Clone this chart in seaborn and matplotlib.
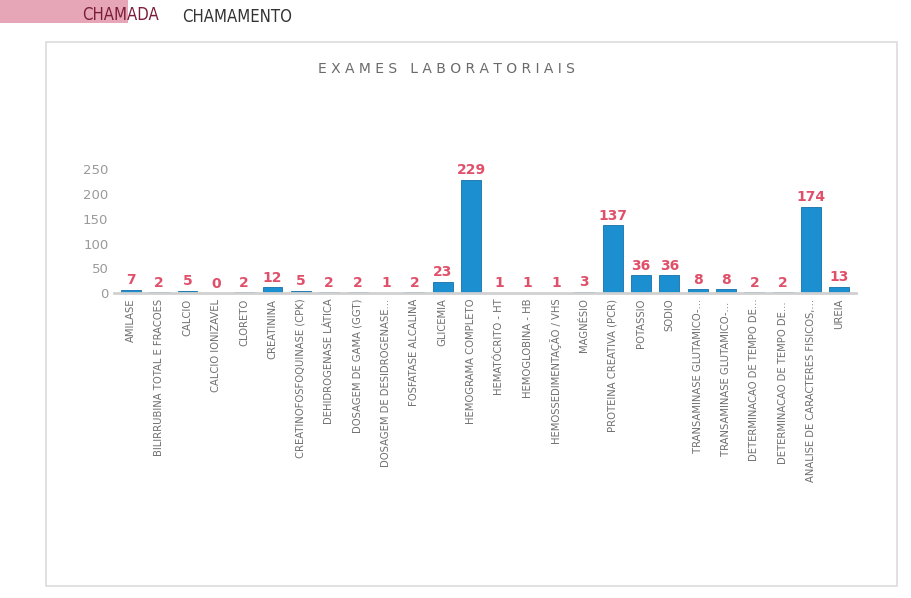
import matplotlib
matplotlib.use("Agg")
import matplotlib.pyplot as plt
import seaborn as sns
import pandas as pd
from matplotlib.patches import Rectangle

categories = [
    "AMILASE", "BILIRRUBINA TOTAL E FRACOES", "CALCIO", "CALCIO IONIZAVEL",
    "CLORETO", "CREATININA", "CREATINOFOSFOQUINASE (CPK)", "DEHIDROGENASE LÁTICA",
    "DOSAGEM DE GAMA (GGT)", "DOSAGEM DE DESIDROGENASE...", "FOSFATASE ALCALINA",
    "GLICEMIA", "HEMOGRAMA COMPLETO", "HEMATÓCRITO - HT", "HEMOGLOBINA - HB",
    "HEMOSSEDIMENTAÇÃO / VHS", "MAGNÉSIO", "PROTEINA CREATIVA (PCR)", "POTASSIO",
    "SODIO", "TRANSAMINASE GLUTAMICO-...", "TRANSAMINASE GLUTAMICO-... ",
    "DETERMINACAO DE TEMPO DE...", "DETERMINACAO DE TEMPO DE... ",
    "ANALISE DE CARACTERES FISICOS,...", "UREIA",
]
values = [7, 2, 5, 0, 2, 12, 5, 2, 2, 1, 2, 23, 229, 1, 1, 1, 3, 137, 36, 36,
          8, 8, 2, 2, 174, 13]
yticks = [0, 50, 100, 150, 200, 250]

df = pd.DataFrame({"exame": categories, "qtd": values})

sns.set_theme(style="white")
plt.rcParams["font.family"] = ["DejaVu Sans"]

fig = plt.figure(figsize=(9.11, 5.98), dpi=100)
fig.patch.set_facecolor("white")

# printed page frame
fig.patches.append(Rectangle((0.05, 0.02), 0.935, 0.91, transform=fig.transFigure,
                             fill=False, edgecolor="#dcdcdc", linewidth=1.2))
# pink header strip
fig.patches.append(Rectangle((0.0, 0.962), 0.14, 0.04, transform=fig.transFigure,
                             facecolor="#e7a6b8", edgecolor="none"))
fig.text(0.09, 0.975, "CHAMADA", fontsize=12, color="#7a1d3a", ha="left", va="center",
         fontstretch="condensed")
fig.text(0.2, 0.972, "CHAMAMENTO", fontsize=12, color="#333333", ha="left", va="center",
         fontstretch="condensed")

ax = fig.add_axes([0.125, 0.51, 0.815, 0.24])
sns.barplot(data=df, x="exame", y="qtd", color="#1c8fd0", ax=ax, width=0.7,
            saturation=1, edgecolor="#1470a8", linewidth=0.6)

ax.set_ylim(0, 290)
ax.set_yticks(yticks)
ax.set_yticklabels([str(t) for t in yticks], fontsize=9.5, color="#9a9a9a")
ax.set_xticks(range(len(categories)))
ax.set_xticklabels(categories, rotation=90, fontsize=8, color="#6e6e6e",
                   fontstretch="condensed")
ax.tick_params(axis="both", length=0, pad=4)
ax.set_xlabel("")
ax.set_ylabel("")
for s in ["top", "right", "left"]:
    ax.spines[s].set_visible(False)
ax.spines["bottom"].set_color("#d0d0d0")
ax.spines["bottom"].set_linewidth(2)
ax.set_xlim(-0.6, len(categories) - 0.4)

for i, v in enumerate(values):
    ax.text(i, v + 5, str(v), ha="center", va="bottom", fontsize=10,
            fontweight="bold", color="#e0506a")

fig.text(0.49, 0.885, "E X A M E S   L A B O R A T O R I A I S", ha="center",
         va="center", fontsize=10, color="#6a6a6a")

fig.savefig("out.png", dpi=100)
